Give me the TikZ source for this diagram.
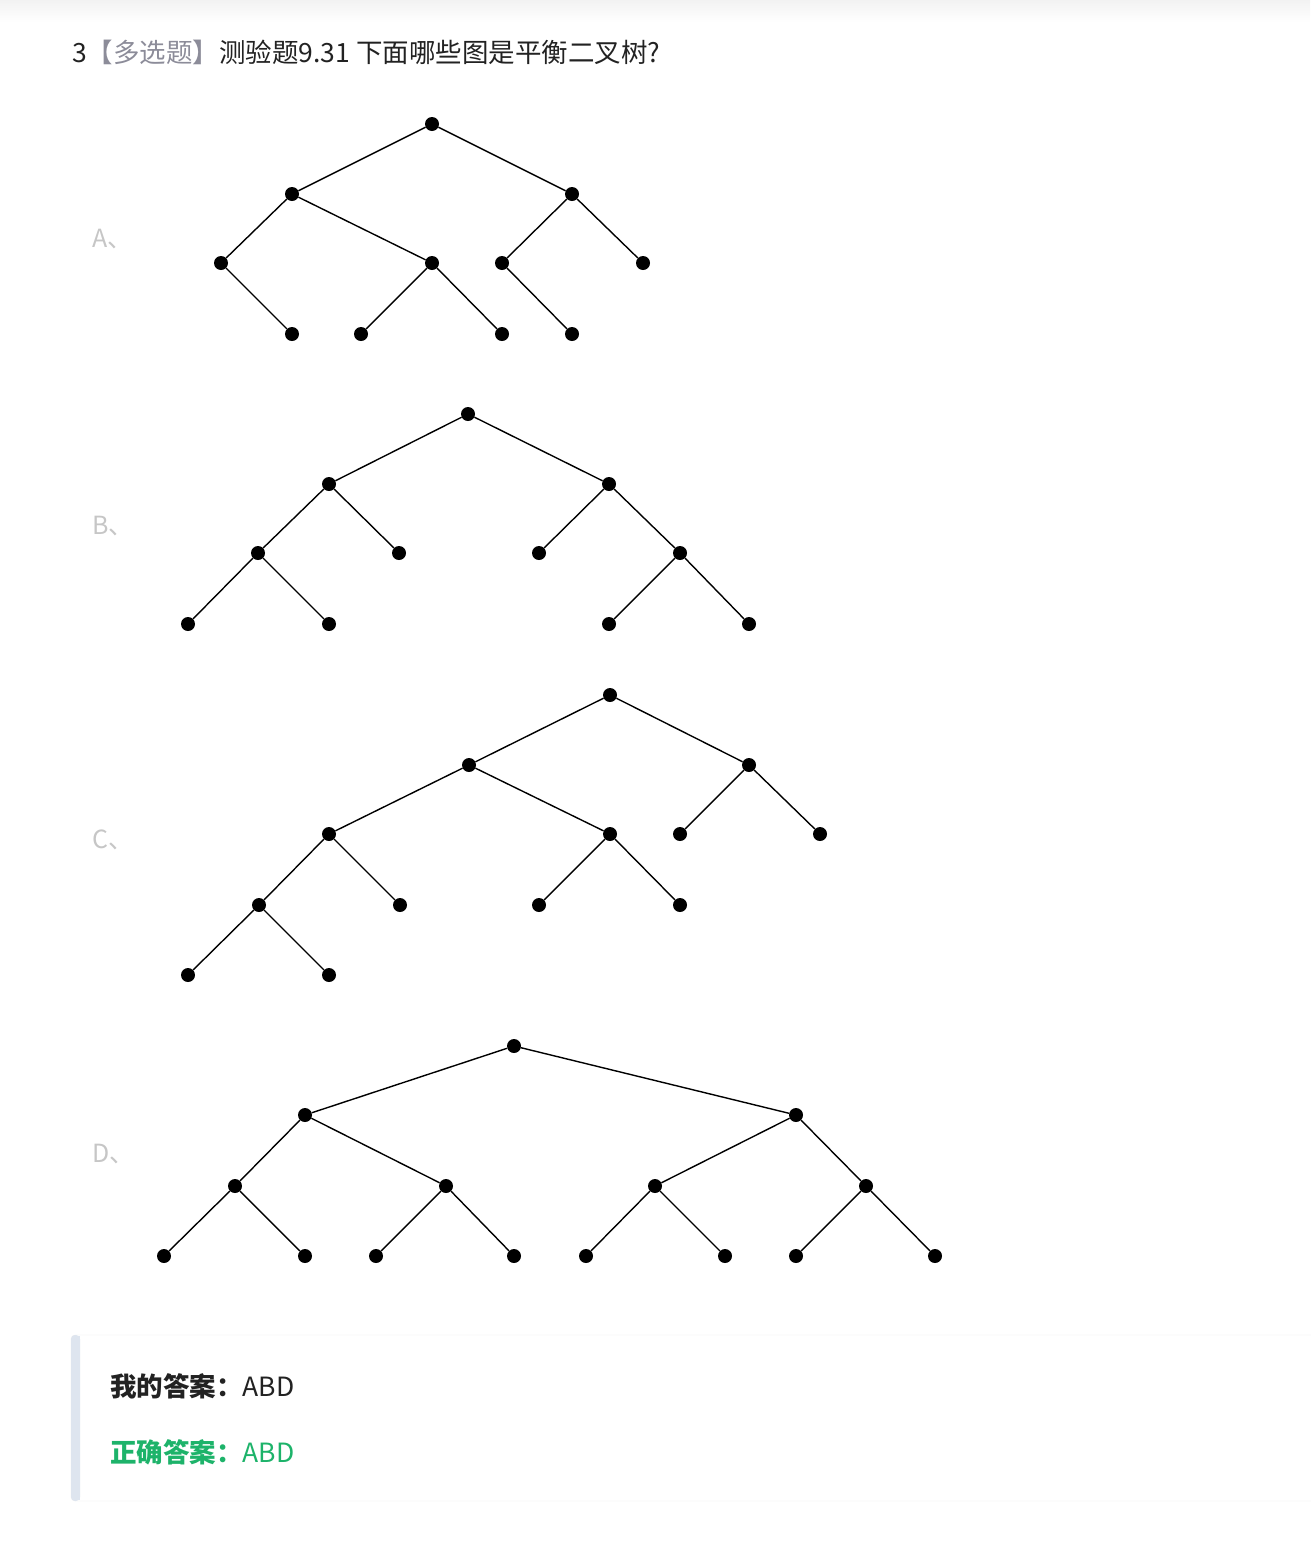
\documentclass[tikz,border=0pt]{standalone}
\usepackage{fontspec}
\setmainfont{Noto Sans CJK SC}
\definecolor{optgray}{HTML}{C6C6C6}
\definecolor{taggray}{HTML}{8C8C99}
\definecolor{inkblack}{HTML}{222222}
\definecolor{rightgreen}{HTML}{1DB36A}
\definecolor{barblue}{HTML}{DEE5EF}
\definecolor{boxline}{HTML}{EBEBEB}
\tikzset{
  dot/.style={circle, fill=black, inner sep=0pt, minimum size=14pt},
  edge/.style={line width=1.4pt},
  optlabel/.style={anchor=base west, text=optgray, inner sep=0pt, font=\fontsize{25}{30}\selectfont},
  bigtext/.style={anchor=base west, inner sep=0pt, font=\fontsize{26.5}{30}\selectfont},
}

\begin{document}
\begin{tikzpicture}[x=1pt, y=-1pt]
  \useasboundingbox (0,0) rectangle (1310,1561);
  \shade[top color=black!5, bottom color=white] (0,0) rectangle (1310,22);

  % question
  \node[bigtext, text=inkblack] (title) at (72,62)
    {3\textcolor{taggray}{【多选题】}测验题9.31 下面哪些图是平衡二叉树?};

  % tree A
  \node[optlabel] (la) at (92,247) {A、};
  \node[dot] (a0) at (432,124) {};
  \node[dot] (a1) at (292,194) {};
  \node[dot] (a2) at (572,194) {};
  \node[dot] (a3) at (221,263) {};
  \node[dot] (a4) at (432,263) {};
  \node[dot] (a5) at (502,263) {};
  \node[dot] (a6) at (643,263) {};
  \node[dot] (a7) at (292,334) {};
  \node[dot] (a8) at (361,334) {};
  \node[dot] (a9) at (502,334) {};
  \node[dot] (a10) at (572,334) {};
  \draw[edge] (a0) -- (a1) (a0) -- (a2) (a1) -- (a3) (a1) -- (a4)
    (a2) -- (a5) (a2) -- (a6) (a3) -- (a7) (a4) -- (a8) (a4) -- (a9)
    (a5) -- (a10);

  % tree B
  \node[optlabel] (lb) at (92,534) {B、};
  \node[dot] (b0) at (468,414) {};
  \node[dot] (b1) at (329,484) {};
  \node[dot] (b2) at (609,484) {};
  \node[dot] (b3) at (258,553) {};
  \node[dot] (b4) at (399,553) {};
  \node[dot] (b5) at (539,553) {};
  \node[dot] (b6) at (680,553) {};
  \node[dot] (b7) at (188,624) {};
  \node[dot] (b8) at (329,624) {};
  \node[dot] (b9) at (609,624) {};
  \node[dot] (b10) at (749,624) {};
  \draw[edge] (b0) -- (b1) (b0) -- (b2) (b1) -- (b3) (b1) -- (b4)
    (b2) -- (b5) (b2) -- (b6) (b3) -- (b7) (b3) -- (b8) (b6) -- (b9)
    (b6) -- (b10);

  % tree C
  \node[optlabel] (lc) at (92,848) {C、};
  \node[dot] (c0) at (610,695) {};
  \node[dot] (c1) at (469,765) {};
  \node[dot] (c2) at (749,765) {};
  \node[dot] (c3) at (329,834) {};
  \node[dot] (c4) at (610,834) {};
  \node[dot] (c5) at (680,834) {};
  \node[dot] (c6) at (820,834) {};
  \node[dot] (c7) at (259,905) {};
  \node[dot] (c8) at (400,905) {};
  \node[dot] (c9) at (539,905) {};
  \node[dot] (c10) at (680,905) {};
  \node[dot] (c11) at (188,975) {};
  \node[dot] (c12) at (329,975) {};
  \draw[edge] (c0) -- (c1) (c0) -- (c2) (c1) -- (c3) (c1) -- (c4)
    (c2) -- (c5) (c2) -- (c6) (c3) -- (c7) (c3) -- (c8) (c4) -- (c9)
    (c4) -- (c10) (c7) -- (c11) (c7) -- (c12);

  % tree D
  \node[optlabel] (ld) at (92,1162) {D、};
  \node[dot] (d0) at (514,1046) {};
  \node[dot] (d1) at (305,1115) {};
  \node[dot] (d2) at (796,1115) {};
  \node[dot] (d3) at (235,1186) {};
  \node[dot] (d4) at (446,1186) {};
  \node[dot] (d5) at (655,1186) {};
  \node[dot] (d6) at (866,1186) {};
  \node[dot] (d7) at (164,1256) {};
  \node[dot] (d8) at (305,1256) {};
  \node[dot] (d9) at (376,1256) {};
  \node[dot] (d10) at (514,1256) {};
  \node[dot] (d11) at (586,1256) {};
  \node[dot] (d12) at (725,1256) {};
  \node[dot] (d13) at (796,1256) {};
  \node[dot] (d14) at (935,1256) {};
  \draw[edge] (d0) -- (d1) (d0) -- (d2) (d1) -- (d3) (d1) -- (d4)
    (d2) -- (d5) (d2) -- (d6) (d3) -- (d7) (d3) -- (d8) (d4) -- (d9)
    (d4) -- (d10) (d5) -- (d11) (d5) -- (d12) (d6) -- (d13) (d6) -- (d14);

  % answer box
  \draw[boxline, fill=white, rounded corners=4pt] (71,1335) rectangle (1330,1501);
  \fill[barblue, rounded corners=4pt] (71,1335) rectangle (80,1501);
  \fill[barblue] (77,1336) rectangle (80,1500);
  \node[bigtext, text=inkblack] (mine) at (110,1396) {\textbf{我的答案：}ABD};
  \node[bigtext, text=rightgreen] (right) at (110,1462) {\textbf{正确答案：}ABD};
\end{tikzpicture}
\end{document}
